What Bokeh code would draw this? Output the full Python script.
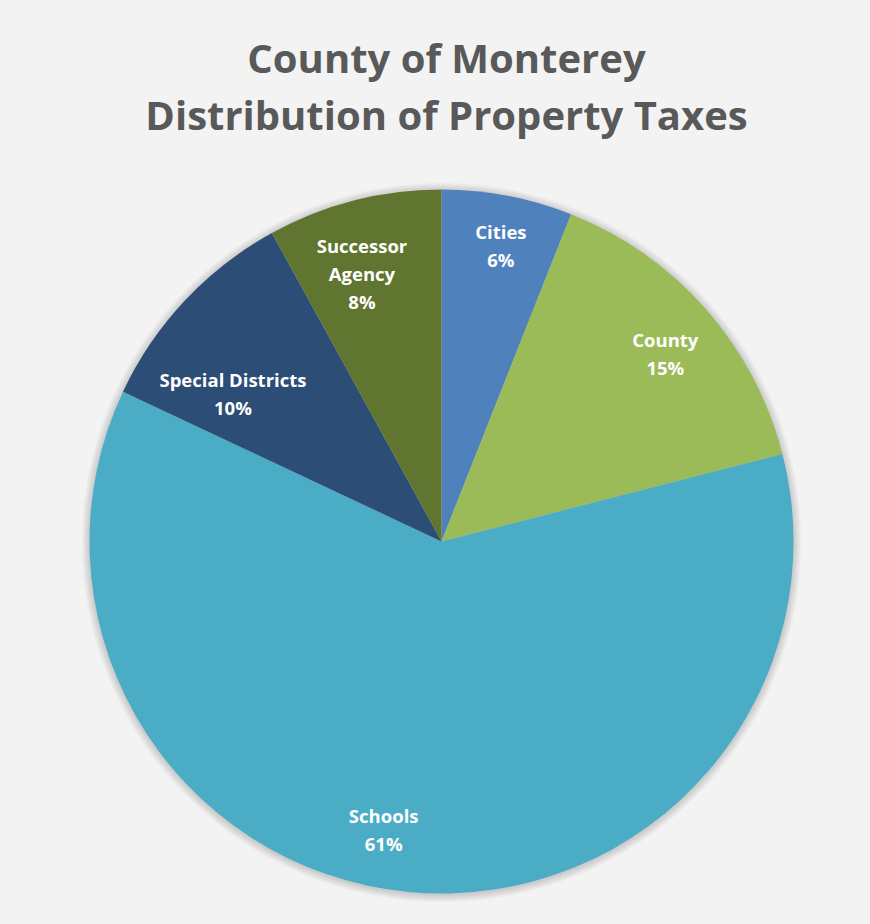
import math
from bokeh.plotting import figure
from bokeh.models import Range1d
from bokeh.embed import file_html
from bokeh.resources import INLINE
from bokeh.core.properties import value

# ---- data ----
categories = ["Cities", "County", "Schools", "Special Districts", "Successor Agency"]
label_names = ["Cities", "County", "Schools", "Special Districts", "Successor\nAgency"]
shares = [6, 15, 61, 10, 8]
colors = ["#4F81BD", "#9BBB59", "#4BACC6", "#2C4D75", "#5F7530"]
title_lines = ["County of Monterey", "Distribution of Property Taxes"]

# ---- layout/style ----
W, H = 862, 916
CX, CY = 441, H - 541
R = 352
LABEL_FRAC = 0.84
# pixel nudges of labels (Excel best-fit placement)
label_nudge = {"Cities": (4, 6), "County": (2, -8), "Schools": (-30, 6),
               "Special Districts": (7, -54), "Successor Agency": (-6, -18)}

p = figure(width=W, height=H, x_range=Range1d(0, W), y_range=Range1d(0, H),
           output_backend="svg", toolbar_location=None, min_border=0,
           background_fill_color="#f3f3f3", border_fill_color="#f3f3f3")
p.axis.visible = False
p.grid.visible = False
p.outline_line_color = None

# soft shadow around pie
for i in range(1, 9):
    p.circle(x=[CX], y=[CY - 1], radius=R + i, fill_color="#000000", fill_alpha=0.018,
             line_color=None)

total = float(sum(shares))
starts, ends, lx, ly = [], [], [], []
cum = 0.0
for cat, s in zip(categories, shares):
    a0 = math.pi / 2 - 2 * math.pi * cum / total
    cum += s
    a1 = math.pi / 2 - 2 * math.pi * cum / total
    starts.append(a0)
    ends.append(a1)
    mid = (a0 + a1) / 2
    dx, dy = label_nudge[cat]
    lx.append(CX + LABEL_FRAC * R * math.cos(mid) + dx)
    ly.append(CY + LABEL_FRAC * R * math.sin(mid) + dy)

p.wedge(x=[CX] * len(shares), y=[CY] * len(shares), radius=R,
        start_angle=starts, end_angle=ends, direction="clock",
        fill_color=colors, line_color=None)

texts = [f"{n}\n{s}%" for n, s in zip(label_names, shares)]
p.text(x=lx, y=ly, text=texts, text_color="#ffffff", text_font=value("Open Sans"),
       text_font_style="bold", text_font_size="18.5px", text_align="center",
       text_baseline="middle", text_line_height=1.12)

# title
p.text(x=[446, 446], y=[H - 57, H - 114], text=title_lines, text_color="#595959",
       text_font=value("Open Sans"), text_font_style="bold", text_font_size="40px",
       text_align="center", text_baseline="alphabetic")

html = file_html(p, INLINE)
html = html.replace("</head>", "<style>html, body { background: #f3f3f3; }</style></head>", 1)
open("out.html", "w").write(html)
